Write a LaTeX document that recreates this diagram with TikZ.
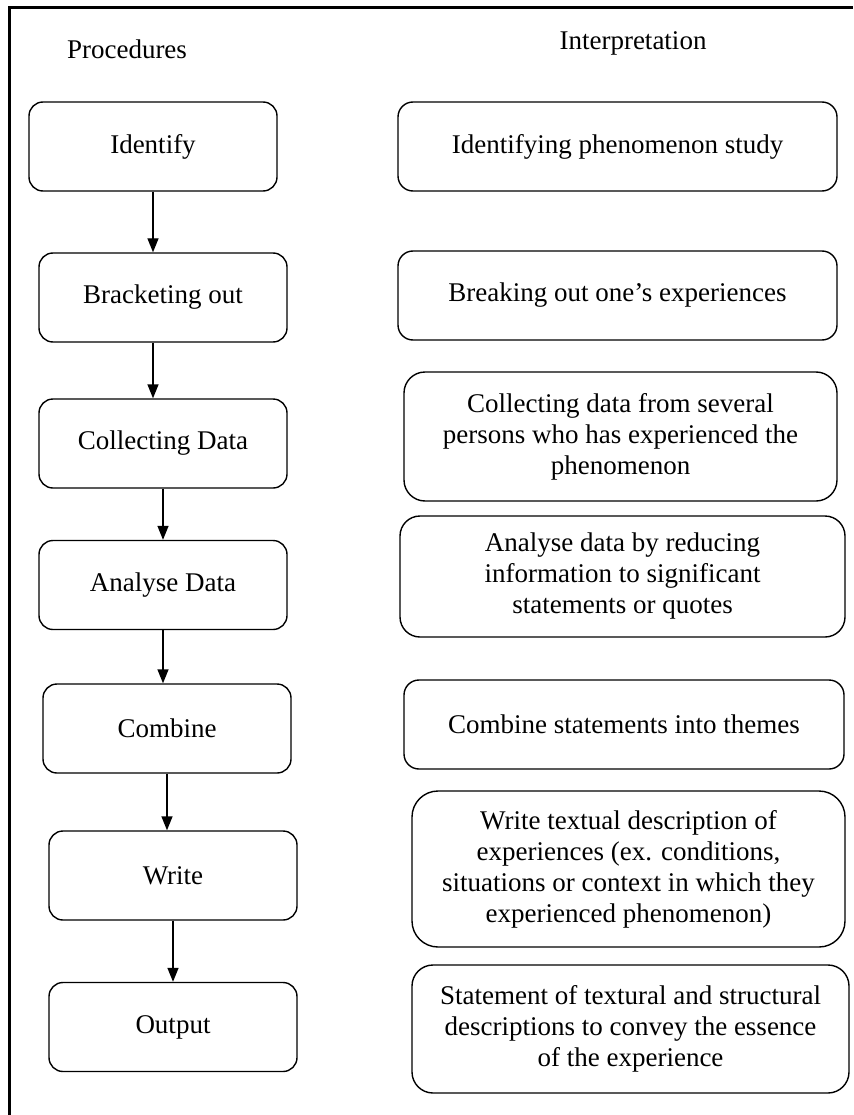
\documentclass[tikz,border=0pt]{standalone}
\usepackage{fontspec}
\setmainfont{Liberation Serif}
\usetikzlibrary{arrows.meta, positioning}

\begin{document}
\begin{tikzpicture}[x=1pt, y=-1pt, >={Triangle[length=14pt,width=11pt]}, line width=1.4pt,
		font=\fontsize{27pt}{31pt}\selectfont]
		\tikzstyle{proc}=[draw=black, rounded corners=14pt, minimum width=248pt, minimum height=89pt, inner sep=0pt, align=center]
		\tikzstyle{interp}=[draw=black, rounded corners=15pt, minimum height=89pt, inner sep=0pt, align=center]
		
		\useasboundingbox (0,0) rectangle (853,1115);
		% outer frame
		\draw[line width=3pt] (9.5,1115) -- (9.5,7.5) -- (853,7.5);
		
		\node (hproc)   at (127,49) {Procedures};
		\node (hinterp) at (633,43) {Interpretation};
		
		\node[proc] (ident) at (153,146.5) {Identify};
		\node[proc] (brack) at (163,297.5) {Bracketing out};
		\node[proc] (coll)  at (163,443.5) {Collecting Data};
		\node[proc] (anal)  at (163,585)   {Analyse Data};
		\node[proc] (comb)  at (167,728.5) {Combine};
		\node[proc] (write) at (173,875.5) {Write};
		\node[proc] (out)   at (173,1027)  {Output};
		
		\node[interp, minimum width=439pt] (iident) at (617.5,146.5) {Identifying phenomenon study};
		\node[interp, minimum width=439pt] (ibrack) at (617.5,295.5) {Breaking out one’s experiences};
		\node[interp, minimum width=433pt, minimum height=129pt, rounded corners=21pt] (icoll) at (620.5,436.5)
			{Collecting data from several\\persons who has experienced the\\phenomenon};
		\node[interp, minimum width=445pt, minimum height=121pt, rounded corners=20pt] (ianal) at (622.5,576.5)
			{Analyse data by reducing\\information to significant\\statements or quotes};
		\node[interp, minimum width=440pt] (icomb) at (624,724.5) {Combine statements into themes};
		\node[interp, minimum width=433pt, minimum height=156pt, rounded corners=26pt] (iwrite) at (628.5,869)
			{Write textual description of\\experiences (ex. conditions,\\situations or context in which they\\experienced phenomenon)};
		\node[interp, minimum width=437pt, minimum height=128pt, rounded corners=21pt] (iout) at (630.5,1029)
			{Statement of textural and structural\\descriptions to convey the essence\\of the experience};
		
		\path[->] (ident) edge (ident |- brack.north)
		(brack.south -| ident) edge (coll.north -| ident)
		(coll) edge (anal)
		(anal) edge (anal |- comb.north)
		(comb) edge (comb |- write.north)
		(write) edge (out);
	\end{tikzpicture}
\end{document}
